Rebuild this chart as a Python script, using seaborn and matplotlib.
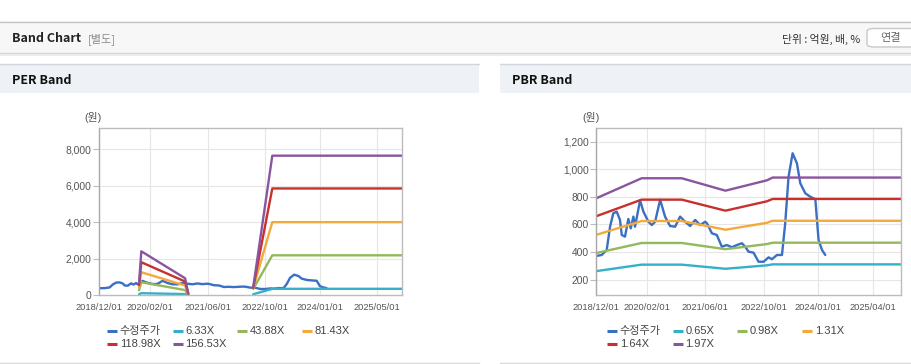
import matplotlib
matplotlib.use('Agg')
import matplotlib.pyplot as plt
import seaborn as sns
import pandas as pd
from matplotlib.lines import Line2D
from matplotlib.patches import Rectangle, FancyBboxPatch

sns.set_theme(style='white')
plt.rcParams['font.family'] = ['Liberation Sans', 'Noto Sans CJK KR', 'DejaVu Sans']

# ---------------- data ----------------
price_label = '수정주가'
price_dates = ['2018-12-01', '2019-01-15', '2019-02-26', '2019-03-26', '2019-04-22', '2019-05-21',
               '2019-06-17', '2019-07-02', '2019-07-29', '2019-08-26', '2019-09-15', '2019-10-07',
               '2019-10-21', '2019-12-02', '2019-12-30', '2020-02-10', '2020-03-09', '2020-04-06',
               '2020-05-18', '2020-06-28', '2020-08-09', '2020-09-20', '2020-11-01', '2020-12-13',
               '2021-01-24', '2021-03-07', '2021-04-17', '2021-05-30', '2021-06-13', '2021-07-25',
               '2021-09-04', '2021-10-16', '2021-11-27', '2022-01-08', '2022-02-19', '2022-04-02',
               '2022-04-29', '2022-05-27', '2022-07-08', '2022-08-19', '2022-09-30', '2022-11-11',
               '2022-12-09', '2023-01-20', '2023-03-03', '2023-03-30', '2023-04-27', '2023-05-31',
               '2023-07-06', '2023-08-03', '2023-09-14', '2023-10-26', '2023-12-07', '2024-01-03',
               '2024-02-01', '2024-02-28']
price_values = [372, 379, 415, 584, 681, 693,
                633, 524, 512, 640, 572, 657,
                584, 775, 693, 620, 596, 620,
                780, 657, 589, 584, 657, 620,
                589, 633, 596, 620, 609, 536,
                524, 439, 451, 435, 451, 464,
                439, 403, 396, 330, 330, 362,
                348, 379, 379, 609, 946, 1116,
                1043, 899, 826, 801, 783, 488,
                415, 379]

# PER band (two separate segments)
per_labels = ['6.33X', '43.88X', '81.43X', '118.98X', '156.53X']
per_dates_a = ['2019-11-01', '2019-11-20', '2020-11-23', '2020-12-20']
per_dates_b = ['2022-06-20', '2022-11-28', '2025-11-25']
per_6_33_a = [40, 100, 50, 5]
per_43_88_a = [260, 700, 270, 20]
per_81_43_a = [420, 1250, 520, 40]
per_118_98_a = [550, 1800, 740, 60]
per_156_53_a = [650, 2400, 920, 80]
per_6_33_b = [40, 340, 340]
per_43_88_b = [330, 2180, 2180]
per_81_43_b = [380, 4000, 4000]
per_118_98_b = [400, 5850, 5850]
per_156_53_b = [420, 7650, 7650]

# PBR band
pbr_labels = ['0.65X', '0.98X', '1.31X', '1.64X', '1.97X']
pbr_dates = ['2018-12-01', '2019-12-15', '2020-11-15', '2021-11-15', '2022-10-28', '2022-12-15', '2025-11-25']
pbr_0_65 = [262, 309, 309, 279, 304, 311, 311]
pbr_0_98 = [393, 466, 466, 421, 458, 468, 468]
pbr_1_31 = [525, 625, 625, 562, 612, 627, 627]
pbr_1_64 = [660, 780, 780, 700, 768, 785, 785]
pbr_1_97 = [790, 935, 935, 845, 920, 940, 940]

per_xtick_dates = ['2018-12-01', '2020-02-01', '2021-06-01', '2022-10-01', '2024-01-01', '2025-05-01']
pbr_xtick_dates = ['2018-12-01', '2020-02-01', '2021-06-01', '2022-10-01', '2024-01-01', '2025-04-01']
per_yticks = [0, 2000, 4000, 6000, 8000]
pbr_yticks = [200, 400, 600, 800, 1000, 1200]

colors = ['#3a6fc4', '#35b0c8', '#93b95a', '#f2aa3c', '#c8302c', '#8a559e']

# ---------------- figure ----------------
W, H = 912, 364
fig = plt.figure(figsize=(W / 100, H / 100), dpi=100)
fig.patch.set_facecolor('white')


def fx(px):
    return px / W


def fy(py):
    return 1 - py / H


def rect(x0, y0, x1, y1, fc, ec='none', lw=0):
    fig.add_artist(Rectangle((fx(x0), fy(y1)), fx(x1) - fx(x0), fy(y0) - fy(y1),
                             transform=fig.transFigure, facecolor=fc, edgecolor=ec, lw=lw))


def hline(x0, x1, y, c, lw=1.0):
    fig.add_artist(Line2D([fx(x0), fx(x1)], [fy(y), fy(y)], transform=fig.transFigure, color=c, lw=lw))


# header band
rect(0, 21.5, 912, 53, '#f7f7f7')
hline(0, 912, 21.5, '#c4c4c4', 1.0)
hline(0, 912, 53, '#d6d6d6', 1.0)
hline(0, 912, 54.5, '#ececec', 1.5)
fig.text(fx(12), fy(39), 'Band Chart', fontsize=9, fontweight='bold', color='#222222',
         family=['Noto Sans CJK KR'], va='center', ha='left')
fig.text(fx(88), fy(39), '[별도]', fontsize=8, color='#8a8a8a',
         family=['Noto Sans CJK KR'], va='center', ha='left')
fig.text(fx(860), fy(39), '단위 : 억원, 배, %', fontsize=7.8, color='#333333',
         family=['Noto Sans CJK KR'], va='center', ha='right')
fig.add_artist(FancyBboxPatch((fx(867), fy(47)), fx(60), 18.5 / H,
                              boxstyle='round,pad=0,rounding_size=0.008',
                              transform=fig.transFigure, facecolor='white', edgecolor='#c8c8c8', lw=1))
fig.text(fx(891), fy(38), '연결', fontsize=8, color='#666666',
         family=['Noto Sans CJK KR'], va='center', ha='center')

# panel title bars
for (x0, x1, title) in [(0, 479, 'PER Band'), (500, 912, 'PBR Band')]:
    rect(x0, 64, x1, 93, '#eef2f7')
    hline(x0, x1, 64, '#d2d6dc', 1.0)
    hline(x0, x1, 362.5, '#d8d8d8', 1.0)
    fig.text(fx(x0 + 12), fy(80.5), title, fontsize=9, fontweight='bold', color='#111111',
             family=['Noto Sans CJK KR'], va='center', ha='left')


def style_axes(ax, xticks, yticks, ylim):
    ax.set_facecolor('white')
    ax.set_xlim(pd.Timestamp('2018-12-01'), pd.Timestamp('2025-11-25'))
    ax.set_ylim(*ylim)
    ax.set_xticks(pd.to_datetime(xticks))
    ax.set_xticklabels([d.replace('-', '/') for d in xticks])
    ax.set_yticks(yticks)
    ax.set_yticklabels([f'{v:,}' for v in yticks])
    ax.grid(True, color='#e6e6e6', lw=0.8)
    ax.set_axisbelow(True)
    for s in ax.spines.values():
        s.set_color('#bcbcbc')
        s.set_linewidth(1.0)
    ax.spines['left'].set_color('#a8a8a8')
    ax.tick_params(axis='y', length=4, width=0.8, color='#bcbcbc', pad=1.5,
                   labelsize=7.4, labelcolor='#555555', left=True)
    ax.tick_params(axis='x', length=0, pad=5.5, labelsize=6.7, labelcolor='#555555', bottom=True)
    ax.set_xlabel('')
    ax.set_ylabel('')


def line(ax, dates, vals, c):
    sns.lineplot(x=pd.to_datetime(dates), y=vals, ax=ax, color=c, linewidth=1.7, legend=False)


def legend(x0, labels):
    cols = [107.3, 172.7, 237.3, 302.3]
    rows = [330.7, 344.0]
    for i, (lab, c) in enumerate(zip(labels, colors)):
        r, k = divmod(i, 4)
        xm = x0 + cols[k]
        ym = rows[r]
        fig.add_artist(Line2D([fx(xm), fx(xm + 10)], [fy(ym), fy(ym)], transform=fig.transFigure,
                              color=c, lw=2.2, solid_capstyle='butt'))
        fig.text(fx(xm + 12.5), fy(ym), lab, fontsize=8, color='#444444', va='center', ha='left')


# ---- PER ----
ax1 = fig.add_axes([fx(99.3), fy(295), (402 - 99.3) / W, (295 - 128) / H])
line(ax1, price_dates, price_values, colors[0])
per_a = [per_6_33_a, per_43_88_a, per_81_43_a, per_118_98_a, per_156_53_a]
per_b = [per_6_33_b, per_43_88_b, per_81_43_b, per_118_98_b, per_156_53_b]
for i in range(5):
    line(ax1, per_dates_a, per_a[i], colors[i + 1])
    line(ax1, per_dates_b, per_b[i], colors[i + 1])
style_axes(ax1, per_xtick_dates, per_yticks, (0, 9170))
fig.text(fx(93), fy(118), '(원)', fontsize=7.8, color='#555555', va='center', ha='center')
legend(0, [price_label] + per_labels)

# ---- PBR ----
ax2 = fig.add_axes([fx(596.3), fy(295), (901.3 - 596.3) / W, (295 - 128.3) / H])
line(ax2, price_dates, price_values, colors[0])
pbr_bands = [pbr_0_65, pbr_0_98, pbr_1_31, pbr_1_64, pbr_1_97]
for i in range(5):
    line(ax2, pbr_dates, pbr_bands[i], colors[i + 1])
style_axes(ax2, pbr_xtick_dates, pbr_yticks, (89, 1297))
fig.text(fx(591), fy(118), '(원)', fontsize=7.8, color='#555555', va='center', ha='center')
legend(500, [price_label] + pbr_labels)

fig.savefig('out.png', dpi=100, facecolor='white')
